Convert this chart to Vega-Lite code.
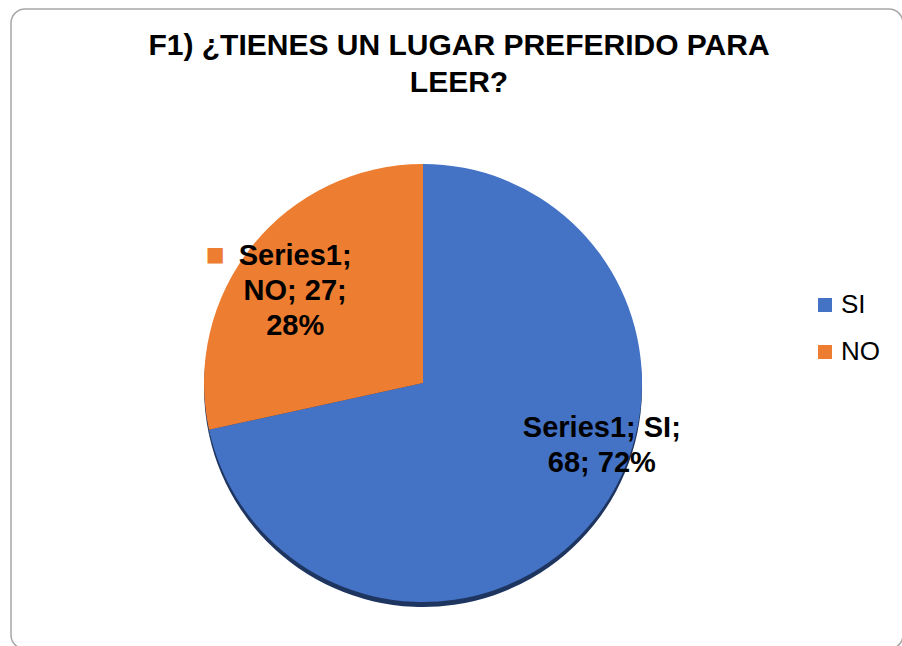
{
  "$schema": "https://vega.github.io/schema/vega-lite/v6.json",
  "autosize": {"type": "none"},
  "padding": {"left": 11, "top": 9, "right": 0, "bottom": 0},
  "width": 892,
  "height": 640,
  "background": "white",
  "view": {"stroke": "#a8a8a8", "strokeWidth": 1.5, "cornerRadius": 14, "fill": "white"},
  "config": {
    "view": {"stroke": "#a8a8a8", "strokeWidth": 1.5, "cornerRadius": 14},
    "font": "Liberation Sans"
  },
  "title": {
    "text": ["F1) ¿TIENES UN LUGAR PREFERIDO PARA", "LEER?"],
    "font": "Liberation Sans",
    "fontSize": 30,
    "fontWeight": "bold",
    "color": "#000000",
    "lineHeight": 37,
    "anchor": "middle",
    "baseline": "alphabetic",
    "offset": -113,
    "dx": 2
  },
  "data": {
    "values": [
      {"respuesta": "SI", "cantidad": 68, "porcentaje": 72},
      {"respuesta": "NO", "cantidad": 27, "porcentaje": 28}
    ]
  },
  "transform": [
    {
      "calculate": "datum.respuesta == 'SI' ? ['Series1; ' + datum.respuesta + ';', datum.cantidad + '; ' + datum.porcentaje + '%'] : ['Series1;', datum.respuesta + '; ' + datum.cantidad + ';', datum.porcentaje + '%']",
      "as": "etiqueta"
    }
  ],
  "encoding": {
    "theta": {"field": "cantidad", "type": "quantitative", "stack": true},
    "order": {"field": "respuesta", "sort": "descending"}
  },
  "layer": [
    {
      "mark": {"type": "arc", "outerRadius": 219, "xOffset": -34, "yOffset": 59, "color": "#1e3560"},
      "encoding": {"detail": {"field": "respuesta"}}
    },
    {
      "mark": {"type": "arc", "outerRadius": 219, "xOffset": -34, "yOffset": 54},
      "encoding": {
        "color": {
          "field": "respuesta",
          "type": "nominal",
          "scale": {"domain": ["SI", "NO"], "range": ["#4472C4", "#ED7D31"]},
          "legend": {
            "title": null,
            "orient": "none",
            "legendX": 801,
            "legendY": 283,
            "padding": 0,
            "symbolType": "square",
            "symbolSize": 196,
            "symbolStrokeWidth": 0,
            "labelFontSize": 26,
            "labelFont": "Liberation Sans",
            "labelColor": "#000000",
            "labelOffset": 3,
            "rowPadding": 21
          }
        }
      }
    },
    {
      "mark": {
        "type": "text",
        "text": "■",
        "radius": 150,
        "fontSize": 20,
        "font": "DejaVu Sans",
        "xOffset": {"expr": "datum.respuesta == 'SI' ? -69 : -125"},
        "yOffset": {"expr": "datum.respuesta == 'SI' ? 3 : 20"}
      },
      "encoding": {
        "color": {"field": "respuesta", "type": "nominal", "legend": null}
      }
    },
    {
      "mark": {
        "type": "text",
        "radius": 150,
        "font": "Liberation Sans",
        "fontSize": 29,
        "fontWeight": "bold",
        "lineHeight": 35,
        "color": "#000000",
        "align": "center",
        "baseline": "middle",
        "xOffset": -34,
        "yOffset": 54,
        "dx": {"expr": "datum.respuesta == 'SI' ? 62 : -11"},
        "dy": {"expr": "datum.respuesta == 'SI' ? -49 : -33"}
      },
      "encoding": {
        "text": {"field": "etiqueta"},
        "detail": {"field": "respuesta"}
      }
    }
  ]
}
